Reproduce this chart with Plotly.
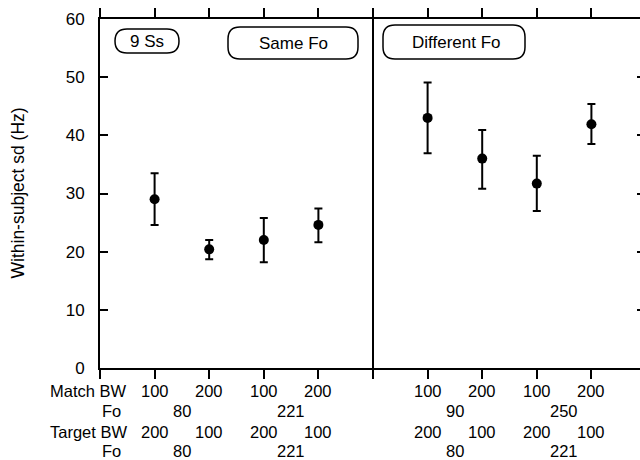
import plotly.graph_objects as go

# ---------------- data ----------------
conditions = ["Same Fo"] * 4 + ["Different Fo"] * 4
sd_mean = [29.0, 20.4, 22.0, 24.6, 43.0, 36.0, 31.7, 41.9]
sd_upper = [33.5, 22.0, 25.8, 27.4, 49.1, 40.9, 36.5, 45.4]
sd_lower = [24.6, 18.7, 18.2, 21.6, 36.9, 30.8, 27.0, 38.5]

match_bw = ["100", "200", "100", "200", "100", "200", "100", "200"]
match_fo = ["80", "221", "90", "250"]
target_bw = ["200", "100", "200", "100", "200", "100", "200", "100"]
target_fo = ["80", "221", "80", "221"]
row_names = ["Match BW", "Fo", "Target BW", "Fo"]
y_ticks = [0, 10, 20, 30, 40, 50, 60]

# category positions: 4 per condition group, a gap slot between groups
xpos = [i + 1 for i in range(4)] + [i + 6 for i in range(4)]
pair_pos = [(xpos[2 * k] + xpos[2 * k + 1]) / 2 for k in range(4)]

FONT = "Liberation Sans, Arial, Helvetica, sans-serif"
W, H = 640, 460
ML, MR, MT, MB = 100, 0, 19, 92
XMAX = 9.89
plot_w = W - ML - MR
plot_h = H - MT - MB
LAB = 16.5

def X(p):
    return (p - ML) * XMAX / plot_w

def Y(p):
    return (H - MB - p) * 60 / plot_h

def pill(x0, x1, y0, y1, r):
    return (f"M {X(x0+r)},{Y(y0)} L {X(x1-r)},{Y(y0)} Q {X(x1)},{Y(y0)} {X(x1)},{Y(y0+r)} "
            f"L {X(x1)},{Y(y1-r)} Q {X(x1)},{Y(y1)} {X(x1-r)},{Y(y1)} "
            f"L {X(x0+r)},{Y(y1)} Q {X(x0)},{Y(y1)} {X(x0)},{Y(y1-r)} "
            f"L {X(x0)},{Y(y0+r)} Q {X(x0)},{Y(y0)} {X(x0+r)},{Y(y0)} Z")

fig = go.Figure()
fig.add_trace(go.Scatter(
    x=xpos, y=sd_mean, mode="markers",
    marker=dict(size=10, color="black"),
    error_y=dict(type="data", symmetric=False,
                 array=[u - m for u, m in zip(sd_upper, sd_mean)],
                 arrayminus=[m - l for m, l in zip(sd_mean, sd_lower)],
                 color="black", thickness=2, width=4),
    showlegend=False, hoverinfo="skip",
))
# invisible trace for the right-hand tick axis
fig.add_trace(go.Scatter(x=[0], y=[0], yaxis="y2", mode="markers",
                         marker=dict(opacity=0), showlegend=False, hoverinfo="skip"))

shapes = [
    dict(type="line", xref="x", yref="y", x0=5, x1=5, y0=0, y1=60,
         line=dict(color="black", width=2)),
    dict(type="path", xref="x", yref="y", path=pill(115, 179, 29, 53, 12),
         line=dict(color="black", width=1.5)),
    dict(type="path", xref="x", yref="y", path=pill(228, 358, 27, 59, 12),
         line=dict(color="black", width=1.5)),
    dict(type="path", xref="x", yref="y", path=pill(383, 525, 25, 59, 12),
         line=dict(color="black", width=1.5)),
]

annotations = []
def txt(text, x, y, **kw):
    d = dict(text=text, x=x, y=y, xref="x", yref="y", showarrow=False,
             font=dict(family=FONT, size=17, color="black"))
    d.update(kw)
    annotations.append(d)

txt("9 Ss", X(147), Y(41))
txt("Same Fo", X(293), Y(43))
txt("Different Fo", X(456), Y(42))

row_offsets = [22.5, 42.5, 63.5, 82.5]
row_right = [29, 23, 29, 23]
for name, off, rr in zip(row_names, row_offsets, row_right):
    annotations.append(dict(text=name, xref="paper", yref="paper", x=0, y=0,
                            xanchor="right", yanchor="middle", xshift=rr, yshift=-off,
                            showarrow=False, font=dict(family=FONT, size=LAB, color="black")))
for labels, positions, off in [(match_bw, xpos, row_offsets[0]),
                               (match_fo, pair_pos, row_offsets[1]),
                               (target_bw, xpos, row_offsets[2]),
                               (target_fo, pair_pos, row_offsets[3])]:
    for lab, p in zip(labels, positions):
        annotations.append(dict(text=lab, xref="x", yref="paper", x=p, y=0,
                                xanchor="center", yanchor="middle", yshift=-off,
                                showarrow=False, font=dict(family=FONT, size=LAB, color="black")))

annotations.append(dict(text="Within-subject sd (Hz)", xref="paper", yref="paper",
                        x=0, y=0.5, xshift=-83, textangle=-90, showarrow=False,
                        xanchor="center", yanchor="middle",
                        font=dict(family=FONT, size=17.5, color="black")))

fig.update_layout(
    width=W, height=H,
    margin=dict(l=ML, r=MR, t=MT, b=MB, pad=0),
    paper_bgcolor="white", plot_bgcolor="white",
    font=dict(family=FONT, size=16, color="black"),
    xaxis=dict(range=[0, XMAX], tickvals=list(range(0, 11)), showticklabels=False,
               ticks="outside", ticklen=9, tickwidth=2, tickcolor="black",
               showline=True, linewidth=2, linecolor="black", mirror="ticks",
               showgrid=False, zeroline=False),
    yaxis=dict(range=[0, 60], tickvals=y_ticks, ticks="inside", ticklen=8,
               tickwidth=2, tickcolor="black", showline=True, linewidth=2,
               linecolor="black", showgrid=False, zeroline=False,
               ticklabelstandoff=10, tickfont=dict(family=FONT, size=17, color="black")),
    yaxis2=dict(range=[0, 60], tickvals=y_ticks, overlaying="y", side="right",
                ticks="inside", ticklen=3, tickwidth=2, tickcolor="black",
                showline=False, showticklabels=False, showgrid=False, zeroline=False),
    shapes=shapes, annotations=annotations,
)

fig.write_html("out.html", config={"displayModeBar": False},
               post_script="document.body.style.margin='0px';document.body.style.overflow='hidden';")
